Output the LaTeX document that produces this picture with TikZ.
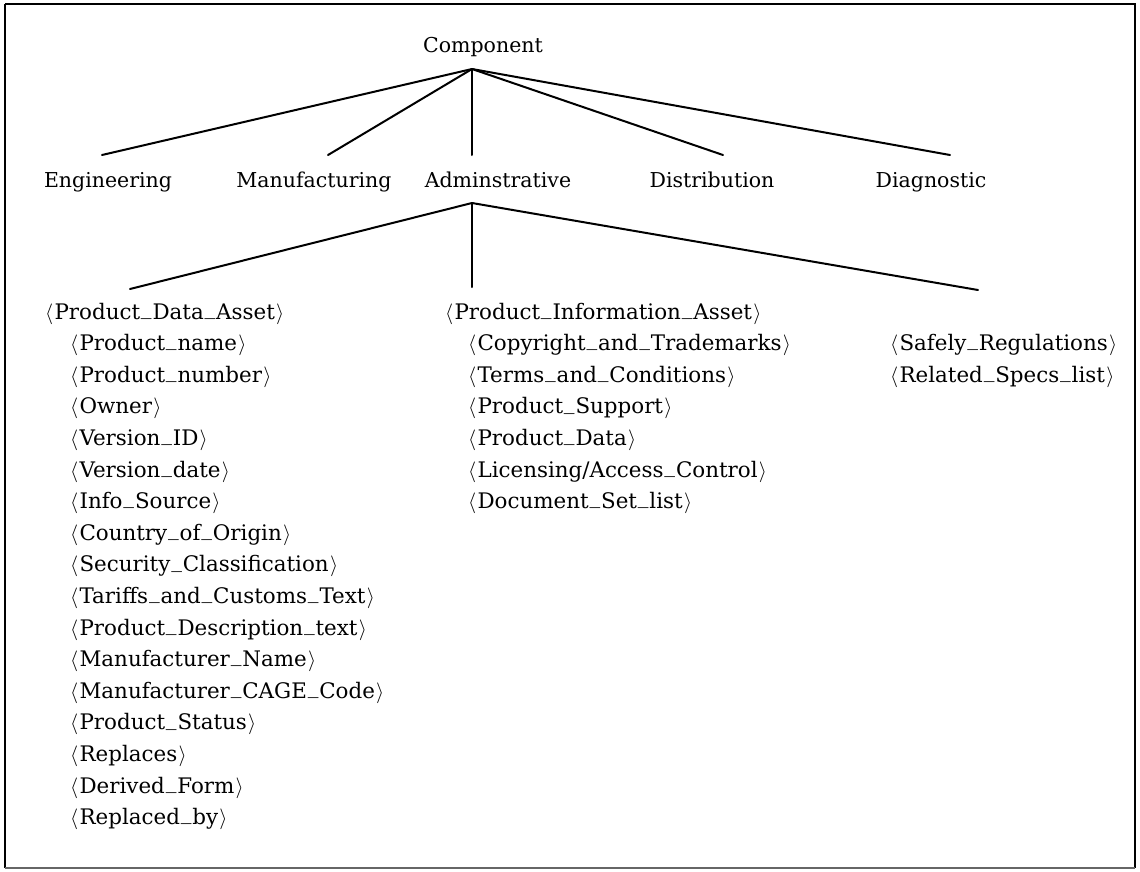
\documentclass[tikz,border=0pt]{standalone}
\usepackage{fontspec}
\usepackage{graphicx}
\setmainfont{DejaVu Serif}
% low underscore joining the words of a field name
\newcommand\us{\kern0.04em\raisebox{0.22em}{\_}\kern0.04em}
% field name in angle brackets
\newcommand\fld[1]{$\langle$\kern0.06em#1\kern0.06em$\rangle$}
\begin{document}
\begin{tikzpicture}[x=1pt,y=-1pt,
  lbl/.style={inner sep=0pt, anchor=base, font=\fontsize{20.5}{24}\selectfont},
  item/.style={inner sep=0pt, anchor=base west, font=\fontsize{21.4}{24}\selectfont},
  edge/.style={line width=2pt, line cap=round}]
\useasboundingbox (0,0) rectangle (1140,871);
% outer frame
\draw[line width=2pt] (5,4) -- (1135,4) -- (1135,868);
\draw[line width=1.6pt] (5,4) -- (5,868);
\draw[line width=1.4pt, black!60] (5,868) -- (1135,868);

% root and first level
\node[lbl] (comp) at (483,52) {Component};
\coordinate (apex) at (472,69);
\node[lbl] (eng)  at (108,187) {Engineering};
\node[lbl] (manu) at (314,187) {Manufacturing};
\node[lbl] (adm)  at (498,187) {Adminstrative};
\node[lbl] (dist) at (712,187) {Distribution};
\node[lbl] (diag) at (931,187) {Diagnostic};
\coordinate (engT)  at (102,155);
\coordinate (manuT) at (328,155);
\coordinate (admT)  at (472,155);
\coordinate (distT) at (723,155);
\coordinate (diagT) at (950,155);
\foreach \t in {engT,manuT,admT,distT,diagT}
  \draw[edge] (apex) -- (\t);

% second level under Adminstrative
\coordinate (apexB) at (472,203);
\coordinate (pdaT) at (130,289);
\coordinate (piaT) at (472,287);
\coordinate (misT) at (978,290);
\foreach \t in {pdaT,piaT,misT}
  \draw[edge] (apexB) -- (\t);

% Product_Data_Asset column
\node[item] (pda) at (45,319) {\fld{Product\us Data\us Asset}};
\foreach [count=\i] \s in {
  Product\us name, Product\us number, Owner, Version\us ID, Version\us date,
  Info\us Source, Country\us of\us Origin, Security\us Classification,
  Tariffs\us and\us Customs\us Text, Product\us Description\us text,
  Manufacturer\us Name, Manufacturer\us CAGE\us Code, Product\us Status,
  Replaces, Derived\us Form, Replaced\us by}
  \node[item] (pda\i) at (70,319+\i*31.6) {\fld{\s}};

% Product_Information_Asset column
\node[item] (pia) at (445,319) {\fld{Product\us Information\us Asset}};
\foreach [count=\i] \s in {
  Copyright\us and\us Trademarks, Terms\us and\us Conditions,
  Product\us Support, Product\us Data, Licensing/Access\us Control,
  Document\us Set\us list}
  \node[item] (pia\i) at (468,319+\i*31.6) {\fld{\s}};

% remaining fields
\node[item] (saf) at (890,350.6) {\fld{Safely\us Regulations}};
\node[item] (rel) at (890,382.2) {\fld{Related\us Specs\us list}};
\end{tikzpicture}
\end{document}
